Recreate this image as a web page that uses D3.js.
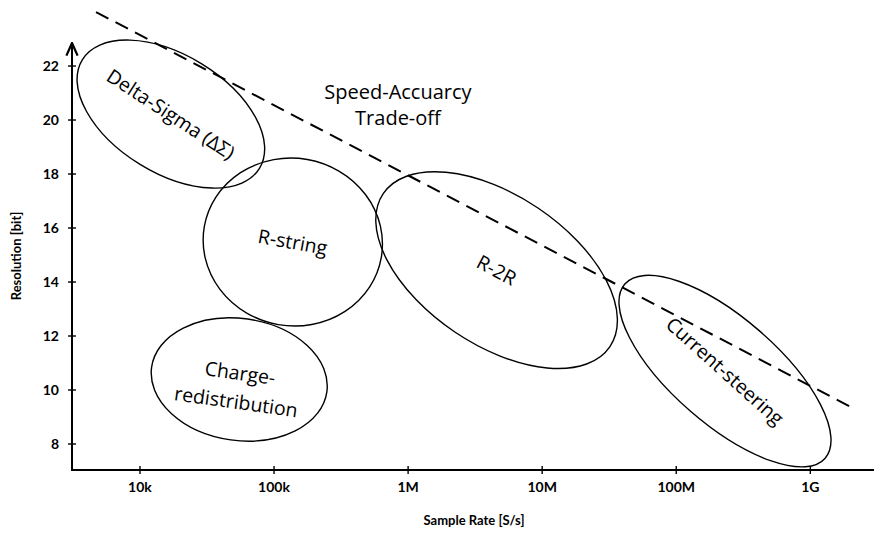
<!DOCTYPE html>
<html>
<head>
<meta charset="utf-8">
<script src="https://cdn.jsdelivr.net/npm/d3@7/dist/d3.min.js"></script>
<style>
  html, body { margin: 0; padding: 0; background: #fff; }
  svg { display: block; }
</style>
</head>
<body>
<svg id="chart" width="874" height="533"></svg>
<script>
// Tick positions and labels
const xTickValues = [1e4, 1e5, 1e6, 1e7, 1e8, 1e9];
const xTickLabels = ["10k", "100k", "1M", "10M", "100M", "1G"];
const yTickValues = [8, 10, 12, 14, 16, 18, 20, 22];

// DAC architecture regions: centre (sample rate, bits), semi-axes in decades, tilt in degrees
const archNames   = ["Delta-Sigma (ΔΣ)", "R-string", "R-2R", "Current-steering", "Charge-redistribution"];
const archRate    = [1.7e4, 1.38e5, 4.57e6, 2.31e8, 5.5e4];
const archBits    = [20.22, 15.48, 14.44, 10.70, 10.39];
const archSemiA   = [0.775, 0.67, 1.02, 0.99, 0.66];
const archSemiB   = [0.44, 0.625, 0.557, 0.395, 0.455];
const archTilt    = [31.5, 10, 34, 41, 8];
const archLabelLines = [["Delta-Sigma (ΔΣ)"], ["R-string"], ["R-2R"], ["Current-steering"], ["Charge-", "redistribution"]];
const archLabelTilt  = [33, 10, 28, 42, 8];

// Speed/accuracy trade-off boundary
const tradeRate = [4.7e3, 2.13e9];
const tradeBits = [24.0, 9.30];
const tradeLabel = ["Speed-Accuarcy", "Trade-off"];

const svg = d3.select("#chart");

const x = d3.scaleLog().domain([10 ** 3.493, 10 ** 9.475]).range([72, 874]);
const y = d3.scaleLinear().domain([7.037, 22.89]).range([470, 42]);
const decade = x(1e5) - x(1e4);

// Arrow marker for the vertical axis
svg.append("defs").append("marker")
  .attr("id", "arrow")
  .attr("viewBox", "0 0 10 10")
  .attr("refX", 9).attr("refY", 5)
  .attr("markerWidth", 7).attr("markerHeight", 7)
  .attr("orient", "auto-start-reverse")
  .append("path").attr("d", "M0,1 L9,5 L0,9").attr("fill", "none")
  .attr("stroke", "#000").attr("stroke-width", 1.6);

// Axis lines
svg.append("line")
  .attr("x1", 72).attr("x2", 72).attr("y1", 471).attr("y2", 43)
  .attr("stroke", "#000").attr("stroke-width", 2)
  .attr("marker-end", "url(#arrow)");
svg.append("line")
  .attr("x1", 71).attr("x2", 874).attr("y1", 470).attr("y2", 470)
  .attr("stroke", "#000").attr("stroke-width", 2);

// Tick marks crossing the axes
svg.append("g").selectAll("line").data(xTickValues).join("line")
  .attr("x1", d => x(d)).attr("x2", d => x(d))
  .attr("y1", 466).attr("y2", 474)
  .attr("stroke", "#000").attr("stroke-width", 1.4);
svg.append("g").selectAll("line").data(yTickValues).join("line")
  .attr("x1", 68).attr("x2", 76)
  .attr("y1", d => y(d)).attr("y2", d => y(d))
  .attr("stroke", "#000").attr("stroke-width", 1.4);

const tickFont = "Lato, 'Open Sans', sans-serif";
svg.append("g").selectAll("text").data(xTickValues).join("text")
  .attr("x", d => x(d)).attr("y", 492)
  .attr("text-anchor", "middle")
  .attr("font-family", tickFont).attr("font-weight", 700).attr("font-size", 14)
  .text((d, i) => xTickLabels[i]);
svg.append("g").selectAll("text").data(yTickValues).join("text")
  .attr("x", 59).attr("y", d => y(d) + 5)
  .attr("text-anchor", "end")
  .attr("font-family", tickFont).attr("font-weight", 700).attr("font-size", 14)
  .text(d => d);

// Axis titles
svg.append("text")
  .attr("x", 474).attr("y", 525)
  .attr("text-anchor", "middle")
  .attr("font-family", tickFont).attr("font-weight", 700).attr("font-size", 13)
  .text("Sample Rate [S/s]");
svg.append("text")
  .attr("transform", "translate(21,256) rotate(-90)")
  .attr("text-anchor", "middle")
  .attr("font-family", tickFont).attr("font-weight", 700).attr("font-size", 13)
  .text("Resolution [bit]");

// Architecture regions
const regions = archNames.map((n, i) => ({
  name: n, rate: archRate[i], bits: archBits[i],
  a: archSemiA[i], b: archSemiB[i], tilt: archTilt[i],
  lines: archLabelLines[i], labelTilt: archLabelTilt[i]
}));

svg.append("g").selectAll("ellipse").data(regions).join("ellipse")
  .attr("transform", d => `translate(${x(d.rate)},${y(d.bits)}) rotate(${d.tilt})`)
  .attr("rx", d => d.a * decade)
  .attr("ry", d => d.b * decade)
  .attr("fill", "none")
  .attr("stroke", "#000").attr("stroke-width", 1.4);

const labelFont = "'Open Sans', 'Noto Sans', sans-serif";
const labels = svg.append("g").selectAll("text").data(regions).join("text")
  .attr("transform", d => `translate(${x(d.rate)},${y(d.bits)}) rotate(${d.labelTilt})`)
  .attr("text-anchor", "middle")
  .attr("font-family", labelFont).attr("font-size", 19.5);
labels.selectAll("tspan").data(d => d.lines.map((t, k) => ({ t, k, n: d.lines.length })))
  .join("tspan")
  .attr("x", 0)
  .attr("y", d => (d.k - (d.n - 1) / 2) * 29 + 7 + (d.n > 1 ? 8 : 0))
  .text(d => d.t);

// Trade-off boundary (dashed)
svg.append("line")
  .attr("x1", x(tradeRate[0])).attr("y1", y(tradeBits[0]))
  .attr("x2", x(tradeRate[1])).attr("y2", y(tradeBits[1]))
  .attr("stroke", "#000").attr("stroke-width", 2)
  .attr("stroke-dasharray", "14 8");

svg.append("text")
  .attr("text-anchor", "middle")
  .attr("font-family", labelFont).attr("font-size", 20)
  .selectAll("tspan").data(tradeLabel).join("tspan")
  .attr("x", x(8.4e5)).attr("y", (d, i) => y(20.78) + i * 26.5)
  .text(d => d);
</script>
</body>
</html>
